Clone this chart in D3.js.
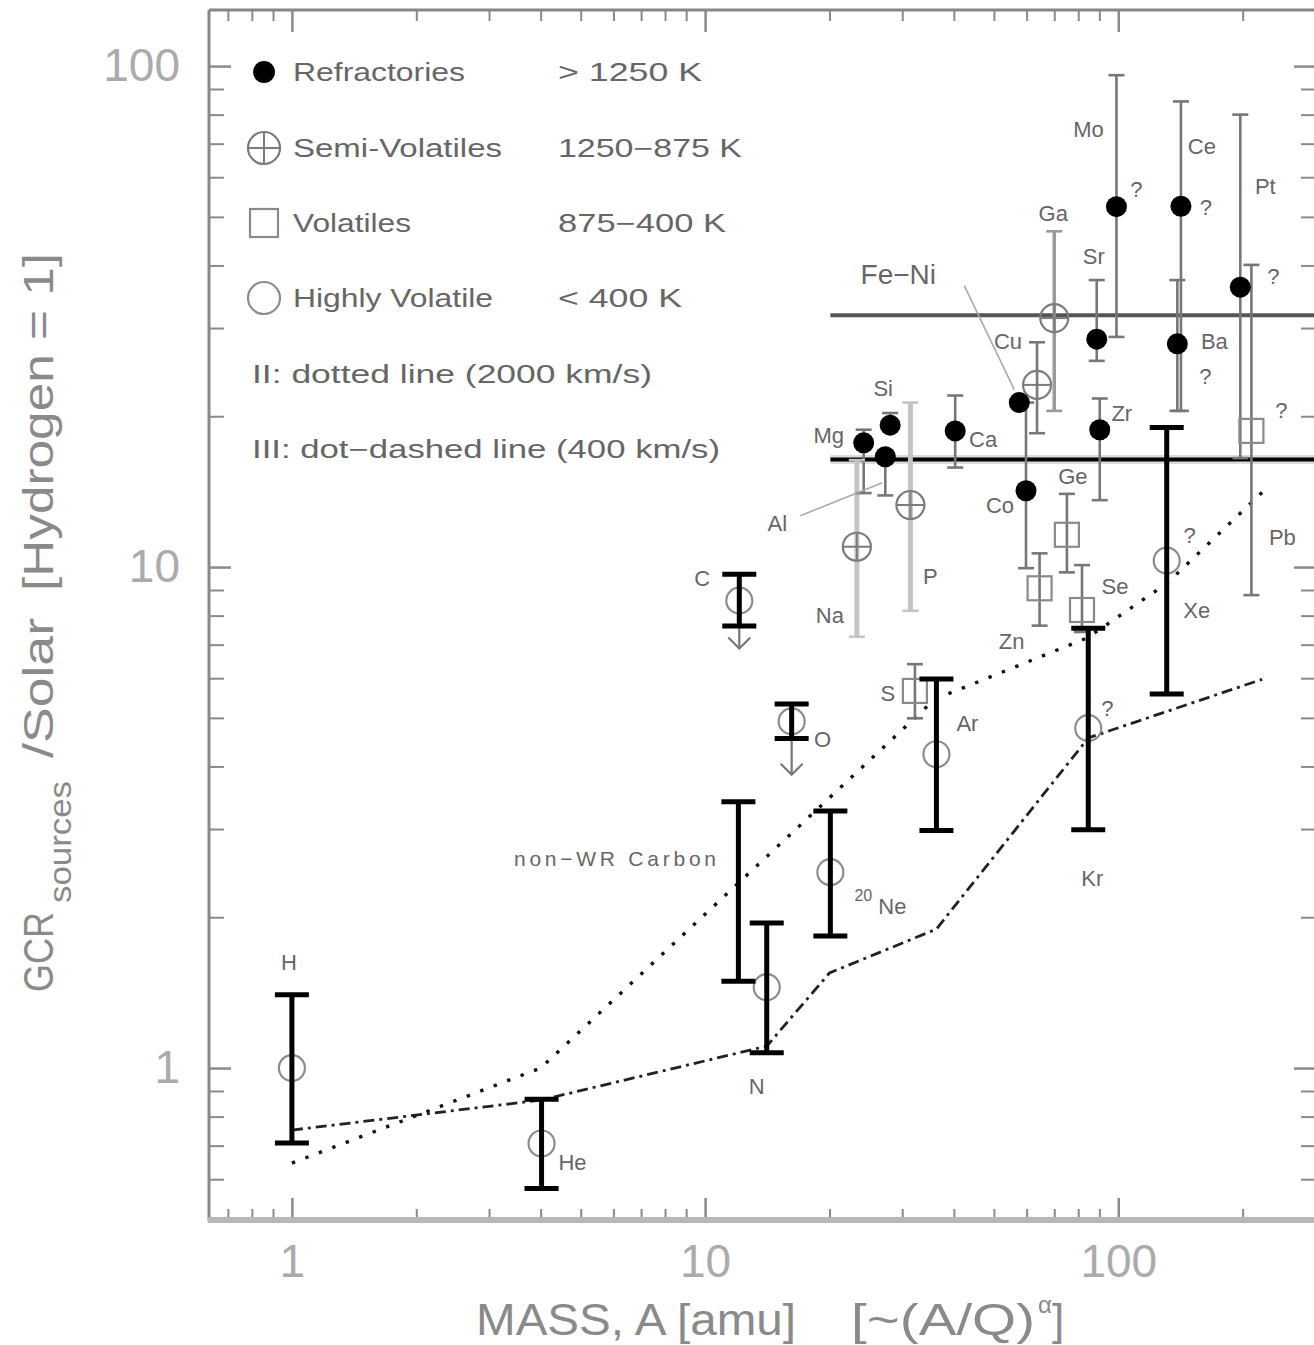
<!DOCTYPE html>
<html>
<head>
<meta charset="utf-8">
<script src="https://cdn.jsdelivr.net/npm/d3@7"></script>
<style>
    body { margin: 0; background: #fff; }
    svg { display: block; }
</style>
</head>
<body>
<div id="chart"></div>
<script>
// values: mass A [amu] vs GCR source / solar (H = 1)

// highly volatile elements: thick bars + open circles
const hvNames = ["H", "He", "N", "Ne", "Ar", "Kr", "Xe"];
const hvMass = [1, 4.02, 14.1, 20.1, 36.3, 84.6, 131];
const hvValue = [1.0, 0.707, 1.45, 2.46, 4.23, 4.77, 10.3];
const hvLow = [0.709, 0.575, 1.073, 1.835, 2.98, 2.99, 5.58];
const hvHigh = [1.40, 0.866, 1.947, 3.26, 5.98, 7.55, 19.0];

// upper limits (thick bar + arrow)
const limNames = ["C", "O"];
const limMass = [12.1, 16.2];
const limValue = [8.57, 4.92];
const limLow = [7.63, 4.55];
const limHigh = [9.67, 5.33];
const limArrow = [6.88, 3.85];

// non-WR carbon range
const nonWRMass = 12.04;
const nonWRLow = 1.49;
const nonWRHigh = 3.40;

// refractories (filled circles)
const refNames = ["Mg", "Si", "Al", "Ca", "Fe", "Co", "Sr", "Zr", "Mo", "Ba", "Ce", "Pt"];
const refMass = [24.2, 28.05, 27.3, 40.3, 57.6, 59.8, 88.7, 90.2, 99, 139, 141.8, 197.4];
const refValue = [17.7, 19.2, 16.6, 18.7, 21.3, 14.2, 28.5, 18.8, 52.4, 27.9, 52.5, 36.2];
const refLow = [14.05, null, 13.9, 15.8, null, 9.95, 25.8, 13.6, 28.8, 20.5, 20.5, 16.5];
const refHigh = [18.8, 20.3, null, 22.0, null, 21.3, 37.4, 21.7, 95.9, 37.4, 85.0, 80.0];

// semi-volatiles (crossed circles)
const semiNames = ["Na", "P", "Cu", "Ga"];
const semiMass = [23.3, 31.4, 63.6, 70];
const semiValue = [10.98, 13.3, 23.1, 31.4];
const semiLow = [7.26, 8.18, 18.5, 20.5];
const semiHigh = [16.35, 21.3, 28.1, 46.8];

// volatiles (open squares)
const volNames = ["S", "Zn", "Ge", "Se", "Pb"];
const volMass = [32.2, 64.5, 75.1, 81.7, 210];
const volValue = [5.66, 9.07, 11.6, 8.21, 18.7];
const volLow = [4.99, 7.64, 9.76, 7.42, 8.79];
const volHigh = [6.40, 10.65, 14.0, 10.09, 40.1];

// Fe-Ni band
const feNiStartMass = 20.1;
const feNiBand = [16.4, 31.8];

// model curves
const curveIIMass = [1, 4, 36, 84.1, 131.4, 223];
const curveIIValue = [0.646, 1.0, 5.45, 7.22, 9.29, 14.1];
const curveIIIMass = [1, 4, 14.1, 20, 36.3, 84.6, 223];
const curveIIIValue = [0.752, 0.863, 1.106, 1.548, 1.894, 4.56, 5.97];

// axes
const xMajor = [1, 10, 100];
const xTickLabels = ["1", "10", "100"];
const xMinor = [0.7, 0.8, 0.9, 2, 3, 4, 5, 6, 7, 8, 9, 20, 30, 40, 50, 60, 70, 80, 90, 200, 300];
const yMajor = [1, 10, 100];
const yTickLabels = ["1", "10", "100"];
const yMinor = [0.6, 0.7, 0.8, 0.9, 2, 3, 4, 5, 6, 7, 8, 9, 20, 30, 40, 50, 60, 70, 80, 90];

// legend
const legendLabels = ["Refractories", "Semi-Volatiles", "Volatiles", "Highly Volatile"];
const legendRanges = ["> 1250 K", "1250\u2212875 K", "875\u2212400 K", "< 400 K"];
const legendNotes = ["II: dotted line (2000 km/s)", "III: dot\u2212dashed line (400 km/s)"];

// ---------------------------------------------------------------
const W = 1314, H = 1345;
const plotLeft = 209, plotRight = 1316, plotTop = 10, plotBottom = 1218;
const FONT = '"Liberation Sans", Arial, Helvetica, sans-serif';

const x = d3.scaleLog().domain([0.63, 301]).range([plotLeft, plotRight]);
const y = d3.scaleLog().domain([0.502, 129.4]).range([plotBottom, plotTop]);

const svg = d3.select("#chart").append("svg")
    .attr("width", W)
    .attr("height", H)
    .style("font-family", FONT);

svg.append("rect").attr("width", W).attr("height", H).attr("fill", "#fff");

function cleanAxis(g, tickColor, tickWidth) {
    g.select(".domain").remove();
    g.attr("font-family", null).attr("font-size", 46);
    g.selectAll(".tick line").attr("stroke", tickColor).attr("stroke-width", tickWidth);
    g.selectAll(".tick text").attr("fill", "#ababab");
}

// bottom
svg.append("g").attr("transform", `translate(0,${plotBottom})`)
    .call(d3.axisBottom(x).tickValues(xMajor).tickSize(-20).tickPadding(26)
        .tickFormat((d, i) => xTickLabels[i]))
    .call(g => cleanAxis(g, "#8a8a8a", 2.5));
svg.append("g").attr("transform", `translate(0,${plotBottom})`)
    .call(d3.axisBottom(x).tickValues(xMinor).tickSize(-9).tickFormat(() => ""))
    .call(g => cleanAxis(g, "#8a8a8a", 2));
// top
svg.append("g").attr("transform", `translate(0,${plotTop})`)
    .call(d3.axisTop(x).tickValues(xMajor).tickSize(-22).tickFormat(() => ""))
    .call(g => cleanAxis(g, "#8a8a8a", 2.5));
svg.append("g").attr("transform", `translate(0,${plotTop})`)
    .call(d3.axisTop(x).tickValues(xMinor).tickSize(-11).tickFormat(() => ""))
    .call(g => cleanAxis(g, "#8a8a8a", 2));
// left
svg.append("g").attr("transform", `translate(${plotLeft},0)`)
    .call(d3.axisLeft(y).tickValues(yMajor).tickSize(-22).tickPadding(29)
        .tickFormat((d, i) => yTickLabels[i]))
    .call(g => cleanAxis(g, "#8a8a8a", 2.5));
svg.append("g").attr("transform", `translate(${plotLeft},0)`)
    .call(d3.axisLeft(y).tickValues(yMinor).tickSize(-15).tickFormat(() => ""))
    .call(g => cleanAxis(g, "#8a8a8a", 2));
// right
svg.append("g").attr("transform", `translate(${plotRight},0)`)
    .call(d3.axisRight(y).tickValues(yMajor).tickSize(-22).tickFormat(() => ""))
    .call(g => cleanAxis(g, "#8a8a8a", 2.5));
svg.append("g").attr("transform", `translate(${plotRight},0)`)
    .call(d3.axisRight(y).tickValues(yMinor).tickSize(-15).tickFormat(() => ""))
    .call(g => cleanAxis(g, "#8a8a8a", 2));

// frame
svg.append("line").attr("x1", plotLeft).attr("x2", plotLeft).attr("y1", plotTop).attr("y2", plotBottom + 3)
    .attr("stroke", "#888").attr("stroke-width", 3);
svg.append("line").attr("x1", plotLeft).attr("x2", plotRight).attr("y1", plotTop).attr("y2", plotTop)
    .attr("stroke", "#888").attr("stroke-width", 3);
svg.append("line").attr("x1", plotRight).attr("x2", plotRight).attr("y1", plotTop).attr("y2", plotBottom)
    .attr("stroke", "#888").attr("stroke-width", 3);
svg.append("line").attr("x1", plotLeft - 1).attr("x2", plotRight).attr("y1", plotBottom + 2).attr("y2", plotBottom + 2)
    .attr("stroke", "#b8b8b8").attr("stroke-width", 6);

// axis titles
const yTitleParts = [
    {text: "GCR", size: 42, base: 53, start: 992, len: 80},
    {text: "sources", size: 32, base: 71, start: 903, len: 122},
    {text: "/Solar", size: 42, base: 53, start: 758, len: 140},
    {text: "[Hydrogen = 1]", size: 42, base: 53, start: 591, len: 338}
];
svg.append("g").selectAll("text").data(yTitleParts).join("text")
    .attr("transform", d => `translate(${d.base},${d.start}) rotate(-90)`)
    .attr("font-size", d => d.size)
    .attr("textLength", d => d.len)
    .attr("lengthAdjust", "spacingAndGlyphs")
    .attr("fill", "#8a8a8a")
    .text(d => d.text);

const xTitle = svg.append("g").attr("fill", "#8a8a8a");
xTitle.append("text").attr("x", 476).attr("y", 1335).attr("font-size", 44)
    .attr("textLength", 320).attr("lengthAdjust", "spacingAndGlyphs").text("MASS, A [amu]");
xTitle.append("text").attr("x", 851).attr("y", 1335).attr("font-size", 44)
    .attr("textLength", 184).attr("lengthAdjust", "spacingAndGlyphs").text("[~(A/Q)");
xTitle.append("text").attr("x", 1038).attr("y", 1313).attr("font-size", 24).text("\u03b1");
xTitle.append("text").attr("x", 1052).attr("y", 1335).attr("font-size", 44).text("]");

// ---------------------------------------------------------------
// model curves
const line = d3.line().x(d => x(d[0])).y(d => y(d[1]));
svg.append("path")
    .attr("d", line(d3.zip(curveIIMass, curveIIValue)))
    .attr("fill", "none").attr("stroke", "#111").attr("stroke-width", 3.4)
    .attr("stroke-dasharray", "3.4,11");
svg.append("path")
    .attr("d", line(d3.zip(curveIIIMass, curveIIIValue)))
    .attr("fill", "none").attr("stroke", "#222").attr("stroke-width", 2.8)
    .attr("stroke-dasharray", "11,5,3,5");

// Fe-Ni band
svg.append("line")
    .attr("x1", x(feNiStartMass)).attr("x2", plotRight)
    .attr("y1", y(feNiBand[1])).attr("y2", y(feNiBand[1]))
    .attr("stroke", "#555").attr("stroke-width", 4);
svg.append("line")
    .attr("x1", x(feNiStartMass)).attr("x2", plotRight)
    .attr("y1", y(feNiBand[0])).attr("y2", y(feNiBand[0]))
    .attr("stroke", "#dcdcdc").attr("stroke-width", 9);
svg.append("line")
    .attr("x1", x(feNiStartMass)).attr("x2", plotRight)
    .attr("y1", y(feNiBand[0])).attr("y2", y(feNiBand[0]))
    .attr("stroke", "#000").attr("stroke-width", 4);

// ---------------------------------------------------------------
// thin error bars (refractories, semi-volatiles, volatiles)
function rows(names, mass, value, low, high, kind) {
    return names.map((name, i) => ({name, kind, mass: mass[i], value: value[i], low: low[i], high: high[i]}));
}
const thinPoints = [].concat(
    rows(semiNames, semiMass, semiValue, semiLow, semiHigh, "semi"),
    rows(volNames, volMass, volValue, volLow, volHigh, "vol"),
    rows(refNames, refMass, refValue, refLow, refHigh, "ref")
);
const lightBars = ["Na", "P"];
const barColor = d => lightBars.includes(d.name) ? "#c4c4c4" : (d.name === "Ga" ? "#9a9a9a" : "#777");
const barWidth = d => lightBars.includes(d.name) ? 5 : (d.name === "Ga" ? 3.5 : 2.6);

const gThin = svg.append("g");
gThin.selectAll("line.bar").data(thinPoints.filter(d => d.low != null || d.high != null)).join("line")
    .attr("class", "bar")
    .attr("x1", d => x(d.mass)).attr("x2", d => x(d.mass))
    .attr("y1", d => y(d.low != null ? d.low : d.value))
    .attr("y2", d => y(d.high != null ? d.high : d.value))
    .attr("stroke", barColor).attr("stroke-width", barWidth);

const thinCaps = thinPoints.flatMap(d => [d.low, d.high].filter(v => v != null).map(v => ({d, v})));
gThin.selectAll("line.cap").data(thinCaps).join("line")
    .attr("class", "cap")
    .attr("x1", c => x(c.d.mass) - 8).attr("x2", c => x(c.d.mass) + 8)
    .attr("y1", c => y(c.v)).attr("y2", c => y(c.v))
    .attr("stroke", c => barColor(c.d)).attr("stroke-width", 2.6);

// markers
function symbol(g, kind, cx, cy, r) {
    if (kind === "ref") {
        g.append("circle").attr("cx", cx).attr("cy", cy).attr("r", r).attr("fill", "#000");
    } else if (kind === "semi") {
        g.append("circle").attr("cx", cx).attr("cy", cy).attr("r", r)
            .attr("fill", "none").attr("stroke", "#7c7c7c").attr("stroke-width", 2.2);
        g.append("line").attr("x1", cx - r).attr("x2", cx + r).attr("y1", cy).attr("y2", cy)
            .attr("stroke", "#7c7c7c").attr("stroke-width", 2);
        g.append("line").attr("x1", cx).attr("x2", cx).attr("y1", cy - r).attr("y2", cy + r)
            .attr("stroke", "#7c7c7c").attr("stroke-width", 2);
    } else if (kind === "vol") {
        g.append("rect").attr("x", cx - r).attr("y", cy - r).attr("width", 2 * r).attr("height", 2 * r)
            .attr("fill", "none").attr("stroke", "#8a8a8a").attr("stroke-width", 2.2);
    } else {
        g.append("circle").attr("cx", cx).attr("cy", cy).attr("r", r)
            .attr("fill", "none").attr("stroke", "#8c8c8c").attr("stroke-width", 2.2);
    }
}
const markerSize = {ref: 10.5, semi: 14, vol: 12, hv: 13};
thinPoints.forEach(d => symbol(gThin, d.kind, x(d.mass), y(d.value), markerSize[d.kind]));

// ---------------------------------------------------------------
// thick bars
const highlyVolatile = rows(hvNames, hvMass, hvValue, hvLow, hvHigh, "hv");
const limits = limNames.map((name, i) => ({name, kind: "hv", mass: limMass[i], value: limValue[i],
    low: limLow[i], high: limHigh[i], arrow: limArrow[i]}));
const thickBars = highlyVolatile.concat(limits, [{name: "nonWR", mass: nonWRMass, low: nonWRLow, high: nonWRHigh}]);

const gThick = svg.append("g");
highlyVolatile.concat(limits).forEach(d => symbol(gThick, "hv", x(d.mass), y(d.value), markerSize.hv));

gThick.selectAll("line.arrow").data(limits).join("line")
    .attr("x1", d => x(d.mass)).attr("x2", d => x(d.mass))
    .attr("y1", d => y(d.low)).attr("y2", d => y(d.arrow))
    .attr("stroke", "#777").attr("stroke-width", 2.2);
gThick.selectAll("path.head").data(limits).join("path")
    .attr("d", d => {
        const cx = x(d.mass), cy = y(d.arrow);
        return `M${cx - 11},${cy - 11}L${cx},${cy}L${cx + 11},${cy - 11}`;
    })
    .attr("fill", "none").attr("stroke", "#777").attr("stroke-width", 2.2);

gThick.selectAll("line.bar").data(thickBars).join("line")
    .attr("x1", d => x(d.mass)).attr("x2", d => x(d.mass))
    .attr("y1", d => y(d.low)).attr("y2", d => y(d.high))
    .attr("stroke", "#000").attr("stroke-width", 5);
const thickCaps = thickBars.flatMap(d => [d.low, d.high].map(v => ({d, v})));
gThick.selectAll("line.cap").data(thickCaps).join("line")
    .attr("x1", c => x(c.d.mass) - 17).attr("x2", c => x(c.d.mass) + 17)
    .attr("y1", c => y(c.v)).attr("y2", c => y(c.v))
    .attr("stroke", "#000").attr("stroke-width", 5);

// ---------------------------------------------------------------
// labels, offsets in px from the marker
const allPoints = {};
thinPoints.concat(highlyVolatile, limits).forEach(d => { allPoints[d.name] = [x(d.mass), y(d.value)]; });

const labelOffset = {
    H: [-3, -106], He: [31, 19], N: [-10, 99], Ar: [31, -31], Kr: [4, 150], Xe: [30, 50],
    C: [-37, -22], O: [31, 18],
    Mg: [-35, -7], Si: [-7, -37], Al: [-108, 67], Ca: [28, 9], Co: [-26, 15], Sr: [-3, -83],
    Zr: [22, -16], Mo: [-28, -77], Ba: [37, -2], Ce: [21, -60], Pt: [25, -101],
    Na: [-27, 69], P: [20, 71], Cu: [-29, -43], Ga: [-1, -105],
    S: [-27, 3], Zn: [-28, 53], Ge: [6, -58], Se: [33, -23], Pb: [31, 107]
};
const queryOffset = {Kr: [19, -20], Xe: [23, -25], Mo: [20, -17], Ce: [25, 1], Ba: [28, 33], Pt: [33, -11], Pb: [30, -20]};

const gLab = svg.append("g").attr("fill", "#666").attr("font-size", 22)
    .attr("text-anchor", "middle").attr("dominant-baseline", "central");
gLab.selectAll("text.el").data(Object.keys(labelOffset)).join("text")
    .attr("x", k => allPoints[k][0] + labelOffset[k][0])
    .attr("y", k => allPoints[k][1] + labelOffset[k][1])
    .text(k => k);
gLab.selectAll("text.q").data(Object.keys(queryOffset)).join("text")
    .attr("class", "q")
    .attr("x", k => allPoints[k][0] + queryOffset[k][0])
    .attr("y", k => allPoints[k][1] + queryOffset[k][1])
    .text("?");

// 20Ne
const ne = allPoints.Ne;
gLab.append("text").attr("x", ne[0] + 33).attr("y", ne[1] + 23).attr("font-size", 16).text("20");
gLab.append("text").attr("x", ne[0] + 62).attr("y", ne[1] + 34).text("Ne");

// non-WR carbon
gLab.append("text").attr("x", 615).attr("y", 858).attr("font-size", 21)
    .attr("textLength", 202).attr("lengthAdjust", "spacing").text("non\u2212WR Carbon");

// Al leader
const al = allPoints.Al;
svg.append("line").attr("x1", al[0] - 85).attr("y1", al[1] + 59).attr("x2", al[0] - 3).attr("y2", al[1] + 26)
    .attr("stroke", "#aaa").attr("stroke-width", 1.6);

// Fe-Ni label and leader
const fe = allPoints.Fe;
gLab.append("text").attr("x", fe[0] - 121).attr("y", fe[1] - 128).attr("font-size", 28).text("Fe\u2212Ni");
svg.append("line").attr("x1", fe[0] - 55).attr("y1", fe[1] - 117).attr("x2", fe[0] - 5).attr("y2", fe[1] - 13)
    .attr("stroke", "#aaa").attr("stroke-width", 1.6);

// ---------------------------------------------------------------
// legend
const legendKinds = ["ref", "semi", "vol", "hv"];
const legendRows = [72, 148, 223, 298];
const legendSymR = [11, 16, 14, 16];
const legendLabelLen = [172, 209, 118, 200];
const legendRangeLen = [144, 184, 168, 124];
const gLeg = svg.append("g").attr("fill", "#666").attr("font-size", 25);
legendKinds.forEach((k, i) => {
    symbol(gLeg, k, 264, legendRows[i], legendSymR[i]);
    gLeg.append("text").attr("x", 293).attr("y", legendRows[i] + 9)
        .attr("textLength", legendLabelLen[i]).attr("lengthAdjust", "spacingAndGlyphs").text(legendLabels[i]);
    gLeg.append("text").attr("x", 558).attr("y", legendRows[i] + 9)
        .attr("textLength", legendRangeLen[i]).attr("lengthAdjust", "spacingAndGlyphs").text(legendRanges[i]);
});
const noteRows = [374, 449];
const noteLen = [400, 468];
legendNotes.forEach((t, i) => {
    gLeg.append("text").attr("x", 252).attr("y", noteRows[i] + 9)
        .attr("textLength", noteLen[i]).attr("lengthAdjust", "spacingAndGlyphs").text(t);
});
</script>
</body>
</html>
